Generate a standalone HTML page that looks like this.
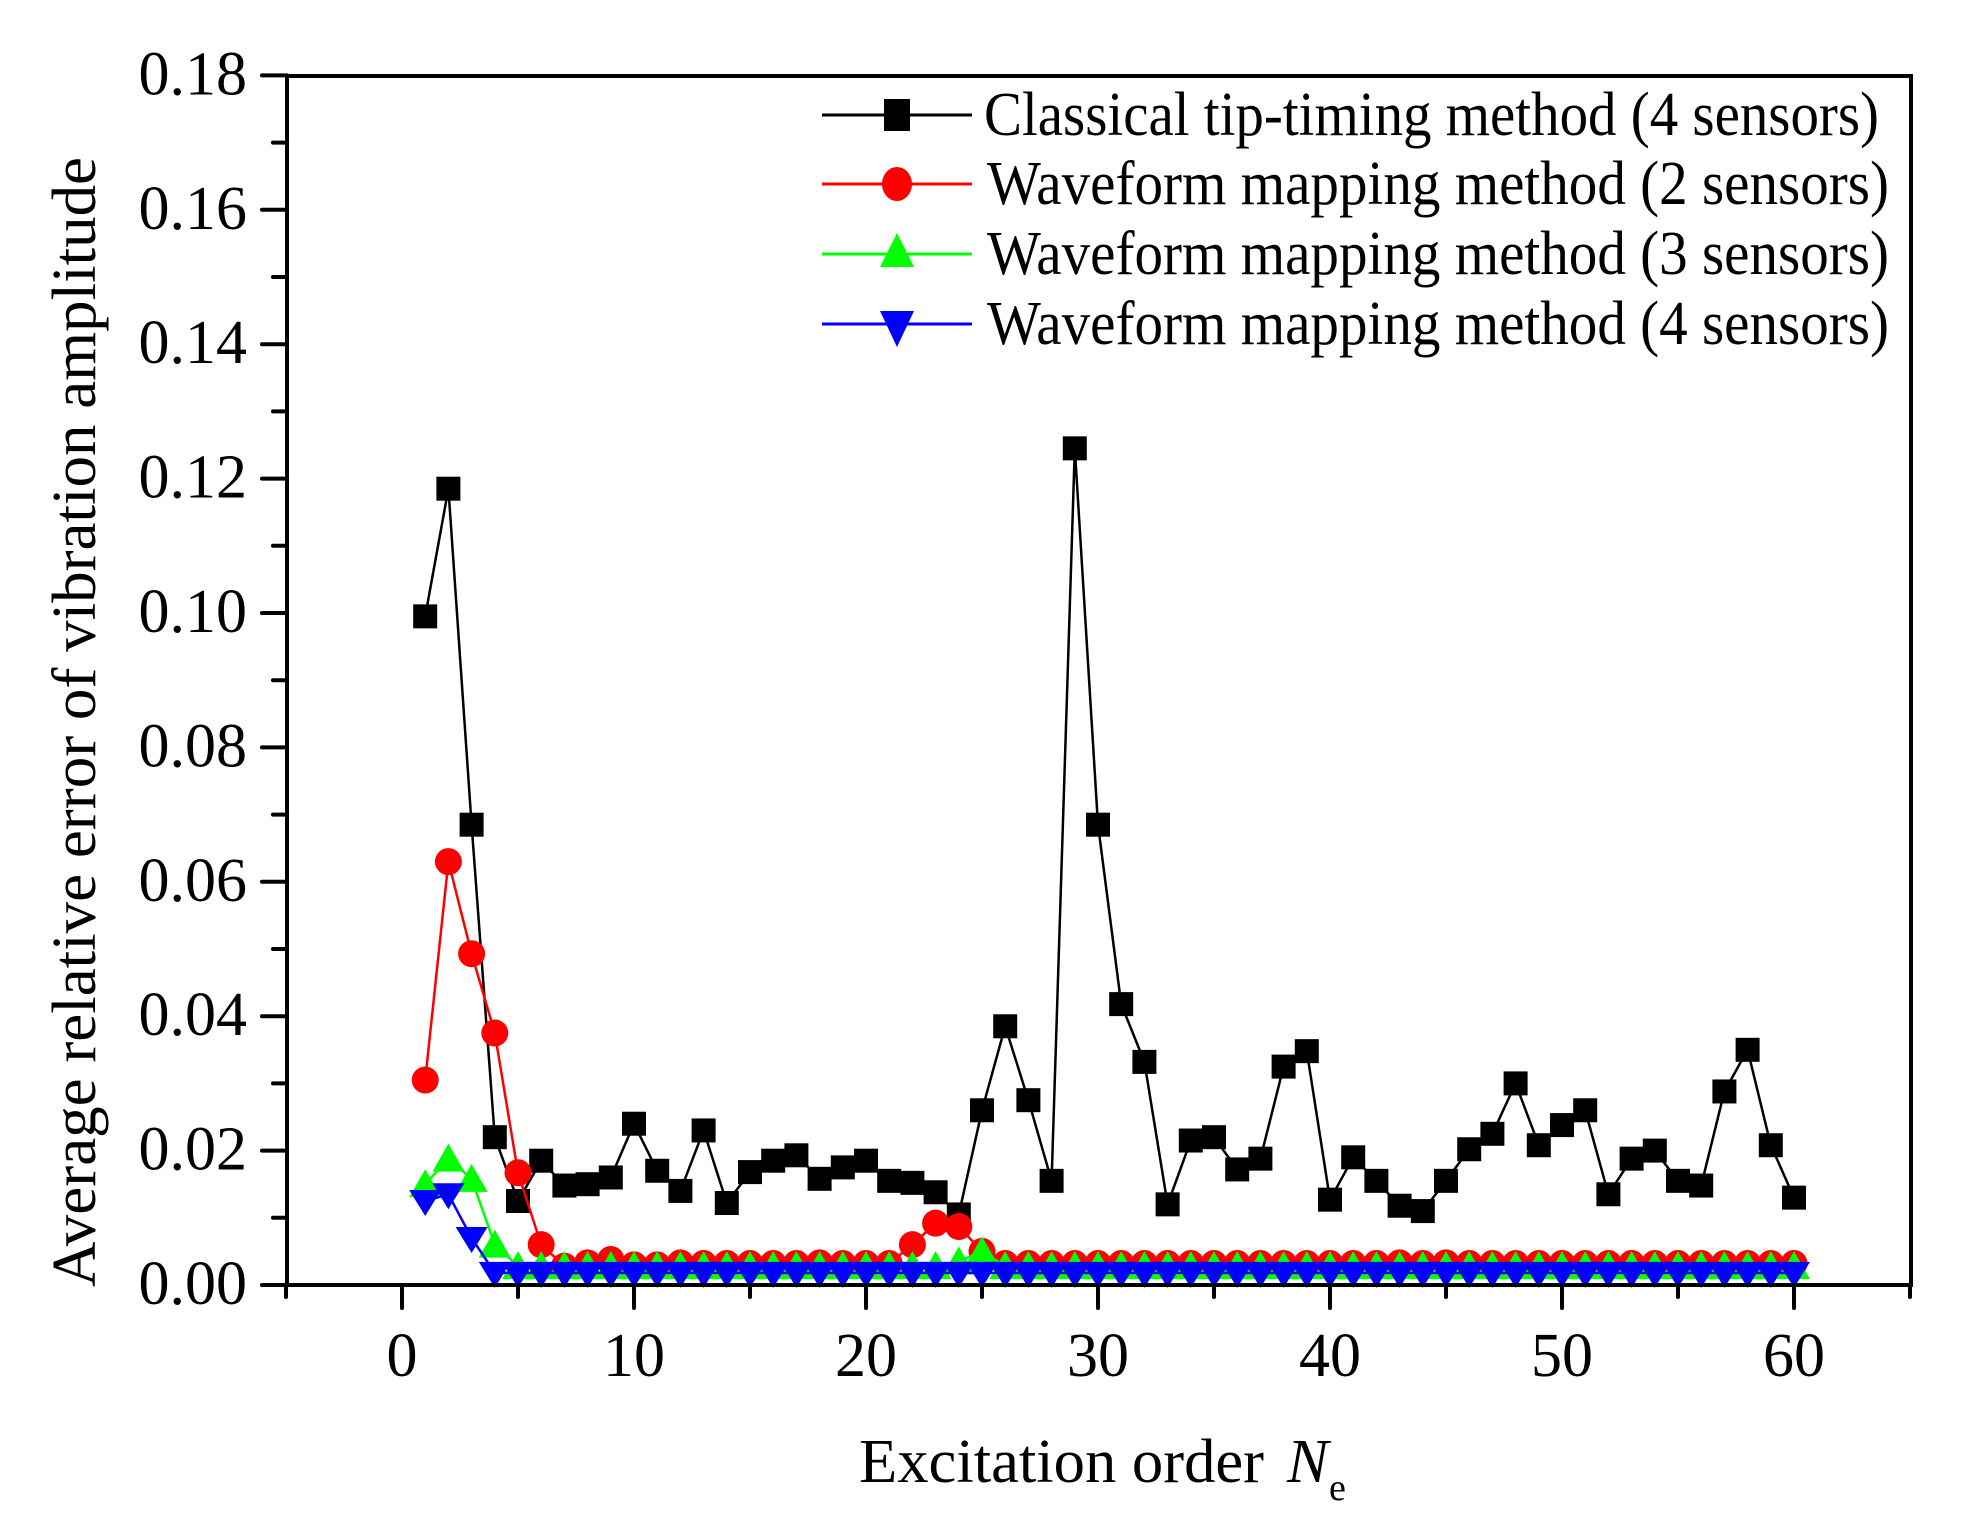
<!DOCTYPE html>
<html><head><meta charset="utf-8"><style>html,body{margin:0;padding:0;background:#fff}svg{display:block}</style></head>
<body>
<svg id="s" width="1962" height="1538" viewBox="0 0 1962 1538" xmlns="http://www.w3.org/2000/svg" font-family="Liberation Serif, serif">
<rect width="1962" height="1538" fill="#fff"/>
<g id="plot"></g>
<g stroke="#000" stroke-width="4" fill="none" stroke-linecap="round">
<rect x="287" y="76" width="1624" height="1209"/>
<g id="ticks"></g>
</g>
<g font-size="62" fill="#000" text-anchor="end" id="ylab"></g>
<g font-size="62" fill="#000" text-anchor="middle" id="xlab"></g>
<text x="0" y="0" font-size="62" text-anchor="middle" transform="translate(95,722) rotate(-90)" textLength="1130" lengthAdjust="spacingAndGlyphs">Average relative error of vibration amplitude</text>
<text x="859" y="1482" font-size="62" textLength="405" lengthAdjust="spacingAndGlyphs">Excitation order</text>
<text x="1287" y="1482" font-size="62" font-style="italic">N</text>
<text x="1329" y="1500" font-size="38">e</text>
<g id="legend"></g>
</svg>
<script>
const X=n=>402+23.2*n, Y=v=>1285-v*6720;
const blk=[0.0995,0.1185,0.0685,0.022,0.0125,0.0185,0.0148,0.015,0.016,0.024,0.017,0.014,0.023,0.0122,0.0168,0.0185,0.0193,0.0158,0.0175,0.0185,0.0155,0.0152,0.0138,0.0105,0.026,0.0385,0.0275,0.0155,0.1245,0.0685,0.0418,0.0332,0.012,0.0215,0.022,0.0172,0.0188,0.0325,0.0348,0.0127,0.019,0.0155,0.0118,0.011,0.0155,0.0202,0.0225,0.03,0.0208,0.0238,0.026,0.0135,0.0188,0.02,0.0155,0.0148,0.0288,0.035,0.0208,0.013];
const red=[],grn=[],blu=[];
for(let i=1;i<=60;i++){red.push(0.0032);grn.push(0.0028);blu.push(0.0018);}
[0.0305,0.063,0.0493,0.0375,0.0167,0.006,0.0028,0.0033,0.0038,0.003].forEach((v,i)=>red[i]=v);
red[21]=0.006;red[22]=0.0092;red[23]=0.0087;red[24]=0.005;red[10]=0.003;red[11]=0.0033;red[17]=0.0033;red[42]=0.0033;red[44]=0.0033;
[0.015,0.0188,0.0158,0.006].forEach((v,i)=>grn[i]=v);grn[23]=0.0035;grn[24]=0.005;
[0.0125,0.0135,0.007].forEach((v,i)=>blu[i]=v);
let h='';
function series(d,col,mk,lw){
 let p=d.map((v,i)=>X(i+1).toFixed(1)+','+Y(v).toFixed(1)).join(' ');
 h+=`<polyline points="${p}" fill="none" stroke="${col}" stroke-width="${lw}"/>`;
 d.forEach((v,i)=>{const x=X(i+1),y=Y(v);
  if(mk=='s')h+=`<rect x="${x-12}" y="${y-12}" width="24" height="24" fill="${col}"/>`;
  else if(mk=='c')h+=`<circle cx="${x}" cy="${y}" r="13.5" fill="${col}"/>`;
  else if(mk=='u')h+=`<polygon points="${x-16},${y+13} ${x+16},${y+13} ${x},${y-15}" fill="${col}"/>`;
  else h+=`<polygon points="${x-16},${y-11} ${x+16},${y-11} ${x},${y+15}" fill="${col}"/>`;});
}
series(blk,'#000','s',2.5);series(red,'#f00','c',2.5);series(grn,'#0f0','u',2.5);series(blu,'#00f','d',2.5);
document.getElementById('plot').innerHTML=h;
let t='',yl='',xl='';
for(let k=0;k<=18;k++){const y=1285-k*67.2;t+=`<line x1="${k%2?273:262}" y1="${y}" x2="287" y2="${y}"/>`;
 if(k%2==0)yl+=`<text x="247" y="${y+19}">${(k/100).toFixed(2)}</text>`;}
for(let n=-5;n<=65;n+=5){const x=X(n);t+=`<line x1="${x}" y1="1285" x2="${x}" y2="${n%10==0?1308:1297}"/>`;
 if(n%10==0&&n>=0&&n<=60)xl+=`<text x="${x}" y="1376">${n}</text>`;}
document.getElementById('ticks').innerHTML=t;
document.getElementById('ylab').innerHTML=yl;
document.getElementById('xlab').innerHTML=xl;
const L=[['Classical tip-timing method (4 sensors)','#000','s',115],['Waveform mapping method (2 sensors)','#f00','c',184],['Waveform mapping method (3 sensors)','#0f0','u',254],['Waveform mapping method (4 sensors)','#00f','d',324]];
let lg='';
L.forEach(([s,c,m,y],i)=>{lg+=`<line x1="822" y1="${y}" x2="972" y2="${y}" stroke="${c}" stroke-width="3"/>`;
 const x=897;
 if(m=='s')lg+=`<rect x="${x-13}" y="${y-16}" width="26" height="32" fill="${c}"/>`;
 else if(m=='c')lg+=`<ellipse cx="${x}" cy="${y}" rx="15" ry="17" fill="${c}"/>`;
 else if(m=='u')lg+=`<polygon points="${x-17},${y+13} ${x+17},${y+13} ${x},${y-21}" fill="${c}"/>`;
 else lg+=`<polygon points="${x-17},${y-13} ${x+17},${y-13} ${x},${y+23}" fill="${c}"/>`;
 lg+=`<text x="${i?987:984}" y="${y+20}" font-size="62" textLength="${i?902:895}" lengthAdjust="spacingAndGlyphs">${s}</text>`;});
document.getElementById('legend').innerHTML=lg;
</script>
</body></html>
